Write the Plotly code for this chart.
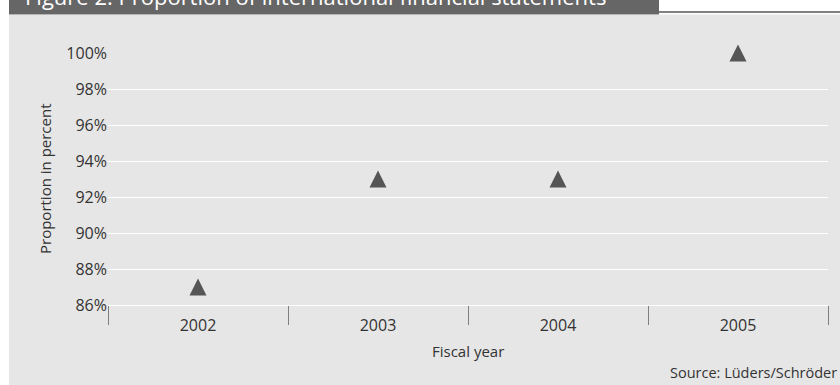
import plotly.graph_objects as go

# ---- data ----
years = ["2002", "2003", "2004", "2005"]
proportion = [87, 93, 93, 100]
y_ticks = [86, 88, 90, 92, 94, 96, 98, 100]
y_tick_labels = [f"{v}%" for v in y_ticks]
title_text = "Figure 2: Proportion of international financial statements"
x_title = "Fiscal year"
y_title = "Proportion in percent"
source_text = "Source: Lüders/Schröder"

# ---- geometry ----
W, H = 840, 385
ML, MR, MT, MB = 108, 12, 53, 80
PW = W - ML - MR
PH = H - MT - MB


def px(x):
    return (x - ML) / PW


def py(y):
    return (H - MB - y) / PH


TEXT = "#333333"
FONT = "Open Sans"

fig = go.Figure(
    go.Scatter(
        x=years,
        y=proportion,
        mode="markers",
        marker=dict(symbol="arrow-down", angle=180, standoff=8.5, size=17,
                    color="#555555", line=dict(width=0)),
        cliponaxis=False,
        hoverinfo="skip",
    )
)

shapes = [
    # light grey panel
    dict(type="rect", xref="paper", yref="paper", x0=px(9), x1=px(840), y0=py(14.5), y1=py(385),
         fillcolor="#e6e6e6", line=dict(width=0), layer="below"),
    # dark header band
    dict(type="rect", xref="paper", yref="paper", x0=px(9), x1=px(659), y0=py(0), y1=py(14),
         fillcolor="#666666", line=dict(width=0), layer="below"),
    dict(type="line", xref="paper", yref="paper", x0=px(9), x1=px(659), y0=py(14.5), y1=py(14.5),
         line=dict(color="#b5b5b5", width=1), layer="below"),
    dict(type="line", xref="paper", yref="paper", x0=px(659), x1=px(840), y0=py(12), y1=py(12),
         line=dict(color="#808080", width=2), layer="below"),
]

annotations = [
    dict(text=title_text, xref="paper", yref="paper", x=px(23), y=py(13.5), xanchor="left",
         yanchor="bottom", showarrow=False, font=dict(family=FONT, size=22, color="white")),
    dict(text=y_title, xref="paper", yref="paper", x=px(45), y=0.5, xanchor="center",
         yanchor="middle", textangle=-90, showarrow=False, font=dict(family=FONT, size=15, color=TEXT)),
    dict(text=x_title, xref="paper", yref="paper", x=0.5, y=py(351), xanchor="center",
         yanchor="middle", showarrow=False, font=dict(family=FONT, size=15, color=TEXT)),
    dict(text=source_text, xref="paper", yref="paper", x=px(839), y=py(372), xanchor="right",
         yanchor="middle", showarrow=False, font=dict(family=FONT, size=14.5, color=TEXT)),
]

fig.update_layout(
    width=W, height=H,
    margin=dict(l=ML, r=MR, t=MT, b=MB),
    paper_bgcolor="white",
    plot_bgcolor="#e6e6e6",
    showlegend=False,
    font=dict(family=FONT, size=15, color=TEXT),
    shapes=shapes,
    annotations=annotations,
    xaxis=dict(type="category", categoryorder="array", categoryarray=years, range=[-0.5, 3.5],
               showgrid=False, ticks="outside", tickson="boundaries", ticklen=19,
               tickcolor="#7f7f7f", tickwidth=1, ticklabelstandoff=6,
               tickfont=dict(family=FONT, size=16, color=TEXT),
               showline=True, linecolor="white", linewidth=1, zeroline=False, fixedrange=True),
    yaxis=dict(range=[86, 100], tickvals=y_ticks, ticktext=y_tick_labels, showgrid=True,
               gridcolor="white", gridwidth=1, zeroline=False, ticks="", showline=False,
               tickfont=dict(family=FONT, size=16, color=TEXT),
               fixedrange=True),
)

fig.write_html("out.html")
